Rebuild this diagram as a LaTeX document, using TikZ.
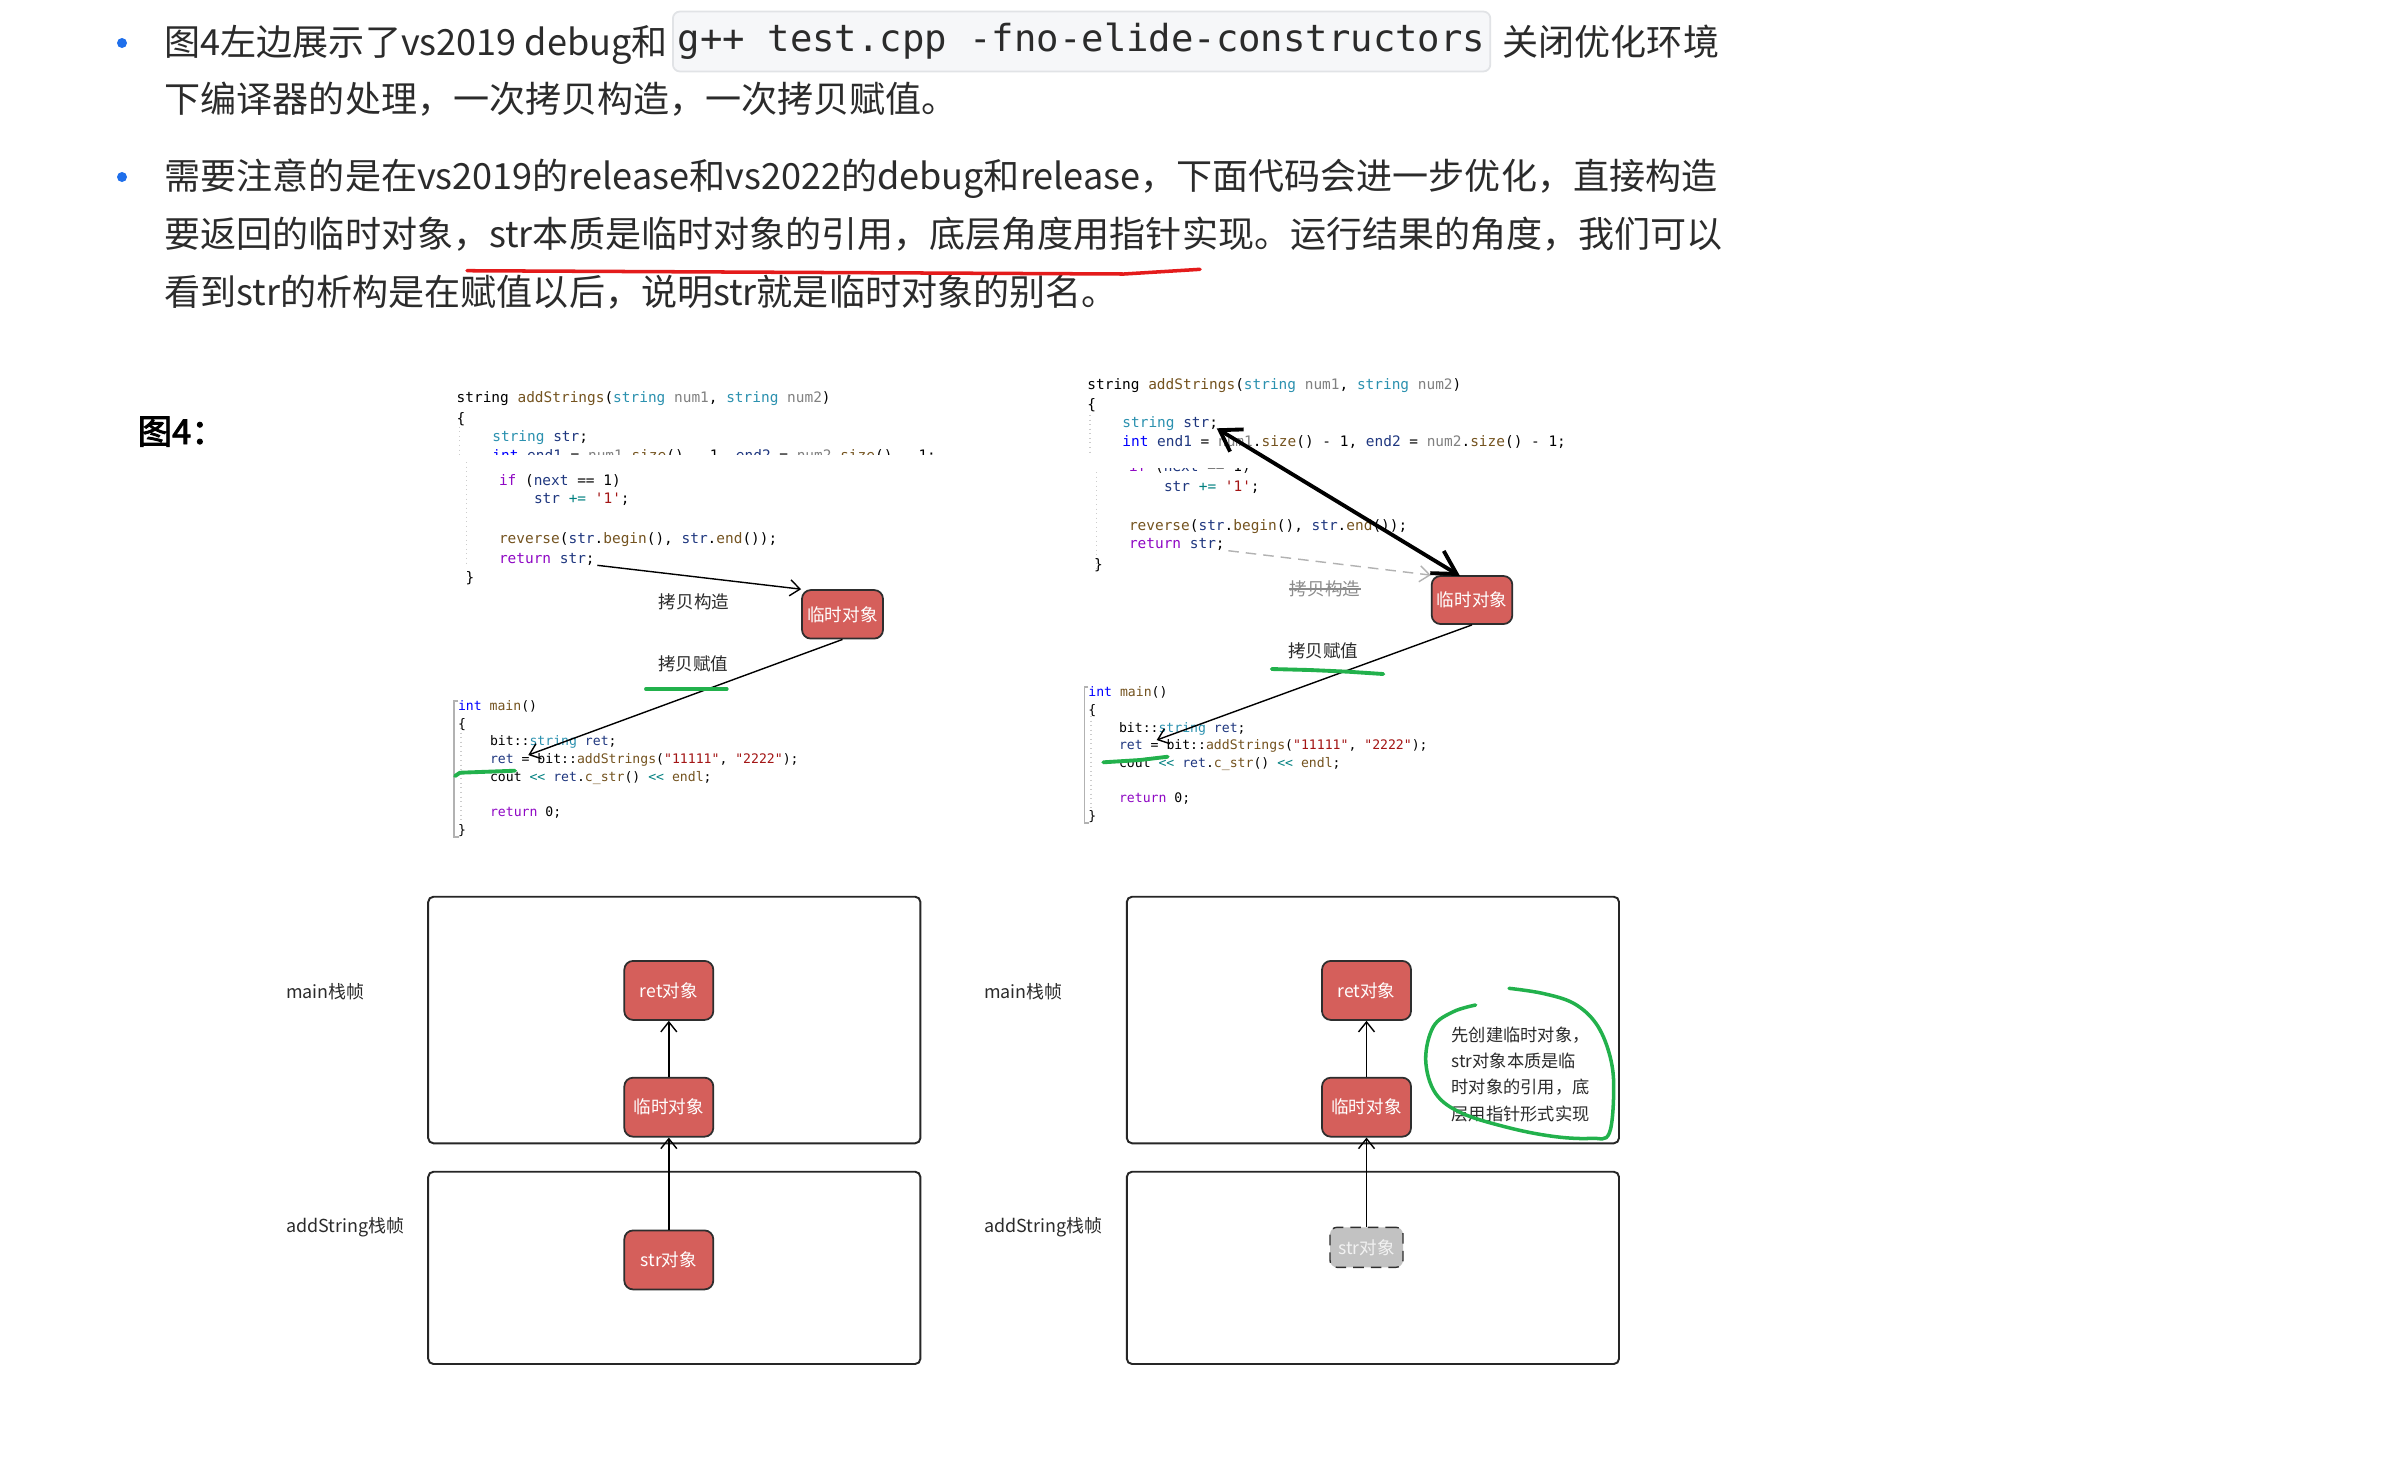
\documentclass[tikz,border=0pt]{standalone}
\usepackage{fontspec}
\setmainfont{Noto Sans CJK SC}
\newfontfamily\codefont{DejaVu Sans Mono}
\newfontfamily\figfont[FakeBold=2.5]{Noto Sans CJK SC}
\usetikzlibrary{positioning,arrows.meta}
\definecolor{ink}{HTML}{2B2B2B}
\definecolor{bulletblue}{HTML}{1F6FEB}
\definecolor{cmdfill}{HTML}{F6F7F9}
\definecolor{cmdline}{HTML}{E1E3E6}
\definecolor{objred}{HTML}{D55F5B}
\definecolor{objline}{HTML}{2E2E2E}
\definecolor{objgray}{HTML}{C2C2C2}
\definecolor{pengreen}{HTML}{22B14C}
\definecolor{penred}{HTML}{E41B1B}
\definecolor{ctype}{HTML}{2B91AF}
\definecolor{cfun}{HTML}{74531F}
\definecolor{cparam}{HTML}{808080}
\definecolor{ckey}{HTML}{0000FF}
\definecolor{cflow}{HTML}{8F08C4}
\definecolor{clocal}{HTML}{1F377F}
\definecolor{cquote}{HTML}{A31515}
\definecolor{coper}{HTML}{008080}
\newcommand{\cty}[1]{\textcolor{ctype}{#1}}
\newcommand{\cfn}[1]{\textcolor{cfun}{#1}}
\newcommand{\cpar}[1]{\textcolor{cparam}{#1}}
\newcommand{\ckey}[1]{\textcolor{ckey}{#1}}
\newcommand{\cflow}[1]{\textcolor{cflow}{#1}}
\newcommand{\cloc}[1]{\textcolor{clocal}{#1}}
\newcommand{\cquote}[1]{\textcolor{cquote}{#1}}
\newcommand{\coper}[1]{\textcolor{coper}{#1}}
\newcommand{\bodysize}{\fontsize{10.26pt}{12pt}\selectfont}
\newcommand{\codebig}{\codefont\fontsize{4.11pt}{5pt}\selectfont}
\newcommand{\codesmall}{\codefont\fontsize{3.74pt}{5pt}\selectfont}
\newcommand{\labelsize}{\fontsize{5pt}{6pt}\selectfont}
\tikzset{
  para/.style={anchor=west, inner sep=0pt, font=\bodysize, text=ink,
               text height=8pt, text depth=1pt},
  cmdbox/.style={anchor=west, fill=cmdfill, draw=cmdline, rounded corners=2pt,
                 inner xsep=0.5mm, minimum height=5.3mm, line width=0.5pt,
                 font=\codefont\fontsize{10.6pt}{12pt}\selectfont, text=ink},
  dot/.style={circle, fill=bulletblue, inner sep=0pt, minimum size=1mm},
  codeln/.style={anchor=west, inner sep=0pt, text height=2.9pt, text depth=0pt},
  lbl/.style={inner sep=0pt, font=\labelsize, text=ink},
  objbox/.style={draw=objline, fill=objred, rounded corners=2.5pt, text=white,
                 minimum width=8.9mm, minimum height=5.9mm, inner sep=0pt,
                 font=\labelsize, line width=0.5pt},
  ghostbox/.style={draw=objline, fill=objgray, rounded corners=2pt, densely dashed,
                   text=white!90!gray, minimum width=7.3mm, minimum height=4mm,
                   inner sep=0pt, font=\labelsize, line width=0.4pt},
  stackframe/.style={draw=black!85, rounded corners=1.5pt, line width=0.55pt},
  arr/.style={-{Straight Barb[length=1mm,width=1.6mm]}, line width=0.4pt},
  guide/.style={draw=black!20, densely dotted, line width=0.3pt},
  gutter/.style={draw=black!30, line width=0.45pt},
  greenpen/.style={draw=pengreen, line width=1.1pt, line cap=round},
}
\begin{document}
\begin{tikzpicture}[x=0.1mm,y=-0.1mm]
  \fill[white] (0,0) rectangle (2397,1467);
  \useasboundingbox (0,0) rectangle (2397,1467);

  % text above the figure
  \node[dot] (b1) at (122,43) {};
  \node[para] (l1a) at (164,43) {图4左边展示了vs2019 debug和};
  \node[cmdbox] (l1b) at (672,41.5) {g++ test.cpp -fno-elide-constructors};
  \node[para] (l1c) at (1502,43) {关闭优化环境};
  \node[para] (l1d) at (164,100) {下编译器的处理，一次拷贝构造，一次拷贝赋值。};
  \node[dot] (b2) at (122,177) {};
  \node[para] (l2a) at (164,177) {需要注意的是在vs2019的release和vs2022的debug和release，下面代码会进一步优化，直接构造};
  \node[para] (l2b) at (164,235) {要返回的临时对象，str本质是临时对象的引用，底层角度用指针实现。运行结果的角度，我们可以};
  \node[para] (l2c) at (164,293.3) {看到str的析构是在赋值以后，说明str就是临时对象的别名。};
  \draw[draw=penred, line width=1pt, line cap=round] (467,270.7) -- (1124,274) -- (1200,269.3);

  \node[anchor=west, inner sep=0pt, font=\figfont\fontsize{9.8pt}{11pt}\selectfont] (fig) at (137,431.7) {图4：};

  % left code, addStrings
  \draw[guide] (459.3,426.7) -- (459.3,454.3);
  \draw[guide] (466.7,462) -- (466.7,566);
  \node[codeln, font=\codebig] (lt1) at (456,397.3) {string \cfn{addStrings}(\cty{string} \cpar{num1}, \cty{string} \cpar{num2})};
  \node[codeln, font=\codebig] (lt2) at (456,418.3) {\{};
  \node[codeln, font=\codebig] (lt3) at (491.7,436) {\cty{string} \cloc{str};};
  \begin{scope}
    \clip (440,440) rectangle (960,454.3);
    \node[codeln, font=\codebig] (lt4) at (491.7,455.3) {\ckey{int} \cloc{end1} = \cpar{num1}.\cfn{size}() - 1, \cloc{end2} = \cpar{num2}.\cfn{size}() - 1;};
  \end{scope}
  \node[codeln, font=\codebig] (lt5) at (498.3,480) {\cflow{if} (\cloc{next} == 1)};
  \node[codeln, font=\codebig] (lt6) at (533.3,498.3) {\cloc{str} \coper{+=} \cquote{'1'};};
  \node[codeln, font=\codebig] (lt7) at (498.3,538.3) {\cfn{reverse}(\cloc{str}.\cfn{begin}(), \cloc{str}.\cfn{end}());};
  \node[codeln, font=\codebig] (lt8) at (498.3,558.3) {\cflow{return} \cloc{str};};
  \node[codeln, font=\codebig] (lt9) at (465,577.3) {\}};

  % left code, main
  \draw[gutter] (458,700.7) -- (454,700.7) -- (454,836.7) -- (459,836.7);
  \draw[guide] (461,728) -- (461,822);
  \node[codeln, font=\codesmall] (lm1) at (457.3,705) {\ckey{int} \cfn{main}()};
  \node[codeln, font=\codesmall] (lm2) at (457.3,723) {\{};
  \node[codeln, font=\codesmall] (lm3) at (489.3,740.7) {bit::\cty{string} \cloc{ret};};
  \node[codeln, font=\codesmall] (lm4) at (489.3,758.4) {\cloc{ret} = bit::\cfn{addStrings}(\cquote{"11111"}, \cquote{"2222"});};
  \node[codeln, font=\codesmall] (lm5) at (489.3,776.2) {cout \coper{<<} \cloc{ret}.\cfn{c\_str}() \coper{<<} \cfn{endl};};
  \node[codeln, font=\codesmall] (lm6) at (489.3,811.7) {\cflow{return} 0;};
  \node[codeln, font=\codesmall] (lm7) at (457.3,829.4) {\}};

  \node[objbox, minimum width=8.1mm, minimum height=4.85mm] (ltmp) at (842.5,614.3) {临时对象};
  \node[lbl] (lcopy) at (694,602) {拷贝构造};
  \node[lbl] (lassign) at (693.3,664) {拷贝赋值};
  \coordinate (lstrend) at (597.3,565.3);
  \coordinate (lretto) at (528.3,755);
  \draw[arr] (lstrend) -- (ltmp.north west);
  \draw[arr] (ltmp.south) -- (lretto);
  \draw[greenpen] (646,689) -- (726.7,689);
  \draw[greenpen] (455,776) -- (460,772.7) -- (515,770.7);

  % right code, addStrings
  \draw[guide] (1090,415) -- (1090,453);
  \draw[guide] (1096.7,472) -- (1096.7,570);
  \node[codeln, font=\codebig] (rt1) at (1086.7,384) {string \cfn{addStrings}(\cty{string} \cpar{num1}, \cty{string} \cpar{num2})};
  \node[codeln, font=\codebig] (rt2) at (1086.7,404) {\{};
  \node[codeln, font=\codebig] (rt3) at (1121.7,422.3) {\cty{string} \cloc{str};};
  \node[codeln, font=\codebig] (rt4) at (1121.7,441.7) {\ckey{int} \cloc{end1} = \cpar{num1}.\cfn{size}() - 1, \cloc{end2} = \cpar{num2}.\cfn{size}() - 1;};
  \begin{scope}
    \clip (1075,468.5) rectangle (1500,478);
    \node[codeln, font=\codebig] (rt5) at (1128.3,466.7) {\cflow{if} (\cloc{next} == 1)};
  \end{scope}
  \node[codeln, font=\codebig] (rt6) at (1163.3,486) {\cloc{str} \coper{+=} \cquote{'1'};};
  \node[codeln, font=\codebig] (rt7) at (1128.3,525) {\cfn{reverse}(\cloc{str}.\cfn{begin}(), \cloc{str}.\cfn{end}());};
  \node[codeln, font=\codebig] (rt8) at (1128.3,543.3) {\cflow{return} \cloc{str};};
  \node[codeln, font=\codebig] (rt9) at (1093.3,564) {\}};

  % right code, main
  \draw[gutter] (1088.3,686.7) -- (1084.3,686.7) -- (1084.3,822.7) -- (1089.3,822.7);
  \draw[guide] (1091,716) -- (1091,808);
  \node[codeln, font=\codesmall] (rm1) at (1087.7,691.7) {\ckey{int} \cfn{main}()};
  \node[codeln, font=\codesmall] (rm2) at (1087.7,709.4) {\{};
  \node[codeln, font=\codesmall] (rm3) at (1118.3,727) {bit::\cty{string} \cloc{ret};};
  \node[codeln, font=\codesmall] (rm4) at (1118.3,744.6) {\cloc{ret} = bit::\cfn{addStrings}(\cquote{"11111"}, \cquote{"2222"});};
  \node[codeln, font=\codesmall] (rm5) at (1118.3,762.2) {cout \coper{<<} \cloc{ret}.\cfn{c\_str}() \coper{<<} \cfn{endl};};
  \node[codeln, font=\codesmall] (rm6) at (1118.3,797.4) {\cflow{return} 0;};
  \node[codeln, font=\codesmall] (rm7) at (1087.7,815) {\}};

  \node[objbox, minimum width=8.06mm, minimum height=4.8mm] (rtmp) at (1472,600) {临时对象};
  \node[lbl, text=black!45] (rcopy) at (1325,589) {拷贝构造};
  \draw[black!45, line width=0.4pt] (rcopy.west) -- (rcopy.east);
  \node[lbl] (rassign) at (1323.3,650.7) {拷贝赋值};
  \coordinate (rstrdecl) at (1216.7,428.3);
  \coordinate (rtmptop) at (1460,576);
  \coordinate (rstrend) at (1228.3,550.7);
  \coordinate (rretto) at (1156.7,740);
  \draw[{Straight Barb[length=2mm,width=2.6mm]}-{Straight Barb[length=2.3mm,width=2.6mm]}, line width=1.1pt] (rstrdecl) -- (rtmptop);
  \draw[arr, draw=black!30, densely dashed] (rstrend) -- (rtmp.north west);
  \draw[arr] (rtmp.south) -- (rretto);
  \draw[greenpen] (1271.7,669) -- (1310,670) -- (1348.3,671.7) -- (1383.3,674);
  \draw[greenpen] (1103.3,762.3) -- (1140,760) -- (1167.7,756.7);

  % stack frames, left
  \draw[stackframe] (428.2,896.7) rectangle (920.4,1143.3);
  \draw[stackframe] (428.2,1171.7) rectangle (920.4,1364);
  \node[lbl, anchor=west, font=\fontsize{5.1pt}{6pt}\selectfont] (lmainlbl) at (285.6,991.7) {main栈帧};
  \node[lbl, anchor=west, font=\fontsize{5.1pt}{6pt}\selectfont] (laddlbl) at (285.6,1226.7) {addString栈帧};
  \node[objbox] (lret) at (668.8,990.4) {ret对象};
  \node[objbox, below=5.6mm of lret] (lmid) {临时对象};
  \node[objbox, below=9.2mm of lmid] (lstr) {str对象};
  \draw[arr] (lmid) -- (lret);
  \draw[arr] (lstr) -- (lmid);

  % stack frames, right
  \draw[stackframe] (1126.8,896.7) rectangle (1619,1143.3);
  \draw[stackframe] (1126.8,1171.7) rectangle (1619,1364);
  \node[lbl, anchor=west, font=\fontsize{5.1pt}{6pt}\selectfont] (rmainlbl) at (983.4,991.7) {main栈帧};
  \node[lbl, anchor=west, font=\fontsize{5.1pt}{6pt}\selectfont] (raddlbl) at (983.4,1226.7) {addString栈帧};
  \node[objbox] (rret) at (1366.5,990.4) {ret对象};
  \node[objbox, below=5.6mm of rret] (rmid) {临时对象};
  \node[ghostbox] (rstr) at (1366.5,1247.3) {str对象};
  \draw[arr] (rmid) -- (rret);
  \draw[arr] (rstr) -- (rmid);
  \node[lbl, anchor=west, align=left, font=\fontsize{4.9pt}{7.5pt}\selectfont] (rnote) at (1451,1074)
    {先创建临时对象，\\str对象本质是临\\时对象的引用，底\\层用指针形式实现};
  \draw[greenpen, line width=1pt] plot[smooth, tension=0.6] coordinates {
    (1509,988.3) (1542.4,993.3) (1573.6,1003.3) (1595.9,1023.3) (1609.2,1053.3)
    (1613.7,1086.7) (1609.2,1133.3) (1591.4,1138.3) (1555.8,1136.7) (1511.2,1128.3)
    (1462.2,1113.3) (1435.5,1093.3) (1425.7,1060) (1433.3,1026.7) (1453.3,1011.7)
    (1475.6,1005)};
\end{tikzpicture}
\end{document}
